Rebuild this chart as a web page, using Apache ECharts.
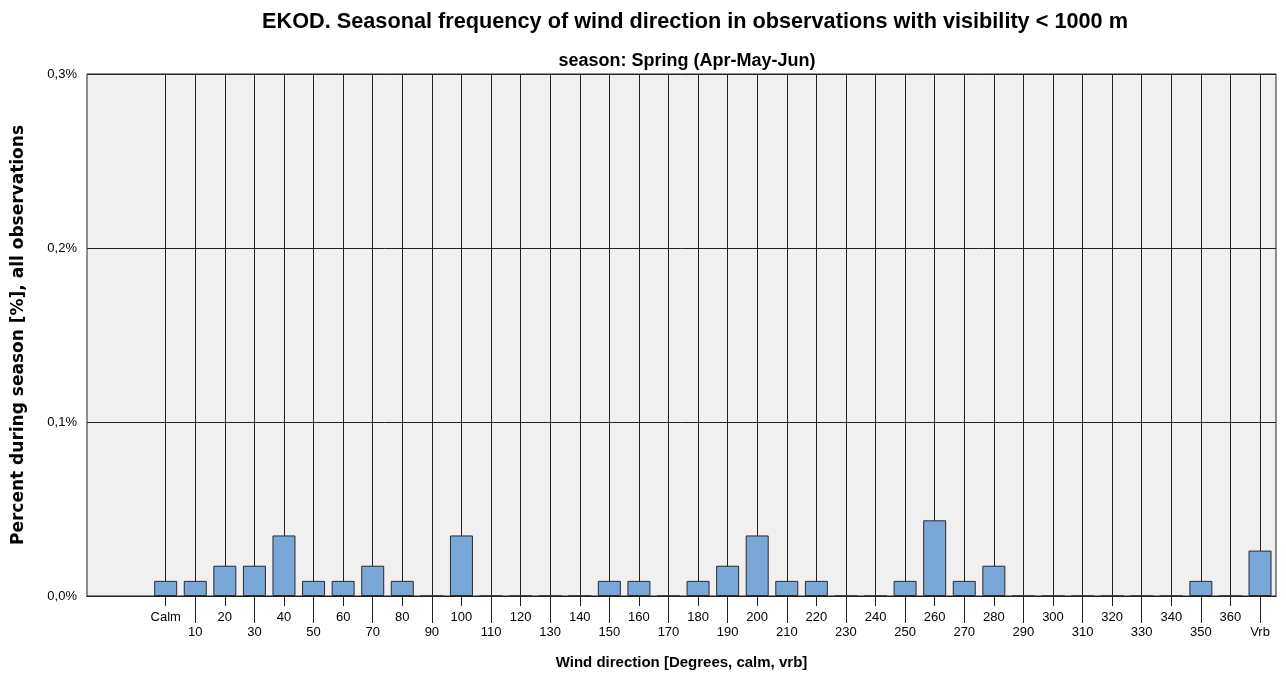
<!DOCTYPE html>
<html>
<head>
<meta charset="utf-8">
<script src="https://cdn.jsdelivr.net/npm/echarts@6/dist/echarts.min.js"></script>
<style>
html,body{margin:0;padding:0;background:#fff;}
#chart{width:1286px;height:679px;}
</style>
</head>
<body>
<div id="chart"></div>
<script>
const categories = ['Calm','10','20','30','40','50','60','70','80','90','100','110','120','130','140','150','160','170','180','190','200','210','220','230','240','250','260','270','280','290','300','310','320','330','340','350','360','Vrb'];
const values = [0.0087,0.0087,0.0174,0.0174,0.0348,0.0087,0.0087,0.0174,0.0087,0,0.0348,0,0,0,0,0.0087,0.0087,0,0.0087,0.0174,0.0348,0.0087,0.0087,0,0,0.0087,0.0435,0.0087,0.0174,0,0,0,0,0,0,0.0087,0,0.0261];
const yTicks = [0, 0.1, 0.2, 0.3];
const titleText = 'EKOD. Seasonal frequency of wind direction in observations with visibility < 1000 m';
const subtitleText = 'season: Spring (Apr-May-Jun)';
const xName = 'Wind direction [Degrees, calm, vrb]';
const yName = 'Percent during season [%], all observations';

const FONT = 'Liberation Sans, Arial, sans-serif';
const idx = categories.map((c, i) => i);
const evenIdx = idx.filter(i => i % 2 === 0);
const oddIdx = idx.filter(i => i % 2 === 1);
const lineColor = '#222';

function xAxisCfg(ticks, tickLen, labelMargin, showName) {
  return {
    type: 'value',
    position: 'bottom',
    min: -2.66,
    max: 37.54,
    name: showName ? xName : '',
    nameLocation: 'middle',
    nameGap: 59,
    nameTextStyle: {fontFamily: FONT, fontWeight: 'bold', fontSize: 15, color: '#000'},
    axisLine: {show: true, onZero: false, lineStyle: {color: lineColor, width: 1}},
    axisTick: {show: true, customValues: ticks, length: tickLen, lineStyle: {color: lineColor, width: 1}},
    axisLabel: {show: true, customValues: ticks, margin: labelMargin, fontFamily: FONT, fontSize: 13, color: '#000',
      formatter: v => categories[Math.round(v)]},
    splitLine: {show: true, lineStyle: {color: lineColor, width: 1}}
  };
}

const chart = echarts.init(document.getElementById('chart'), null, {renderer: 'canvas'});
chart.setOption({
  animation: false,
  backgroundColor: '#fff',
  title: [
    {text: titleText, left: 690, top: 6, textAlign: 'center',
     textStyle: {fontFamily: FONT, fontWeight: 'bold', fontSize: 21.7, color: '#000'}},
    {text: subtitleText, left: 682, top: 47, textAlign: 'center',
     textStyle: {fontFamily: FONT, fontWeight: 'bold', fontSize: 18, color: '#000'}}
  ],
  grid: {left: 87, right: 10, top: 74, bottom: 83, show: true, backgroundColor: '#f0f0f0', borderColor: lineColor, borderWidth: 1, outerBoundsMode: 'none', containLabel: false},
  xAxis: [xAxisCfg(evenIdx, 10, 15, true), xAxisCfg(oddIdx, 27, 30, false)],
  yAxis: {
    type: 'value', min: yTicks[0], max: yTicks[yTicks.length - 1], interval: 0.1,
    name: yName, nameLocation: 'middle', nameGap: 60,
    nameTextStyle: {fontFamily: 'DejaVu Sans, Verdana, sans-serif', fontWeight: 'bold', fontSize: 17, color: '#000'},
    axisLine: {show: true, lineStyle: {color: lineColor}},
    axisTick: {show: true, length: 6, lineStyle: {color: lineColor}},
    axisLabel: {fontFamily: FONT, fontSize: 13, color: '#000', margin: 10,
      formatter: v => v.toFixed(1).replace('.', ',') + '%'},
    splitLine: {show: true, lineStyle: {color: lineColor, width: 1}}
  },
  series: [{
    type: 'bar',
    xAxisIndex: 0,
    data: values.map((v, i) => [i, v]),
    barWidth: 23,
    itemStyle: {color: '#79a7d8', borderColor: '#2b2b2b', borderWidth: 1},
    z: 3
  }]
});
</script>
</body>
</html>
